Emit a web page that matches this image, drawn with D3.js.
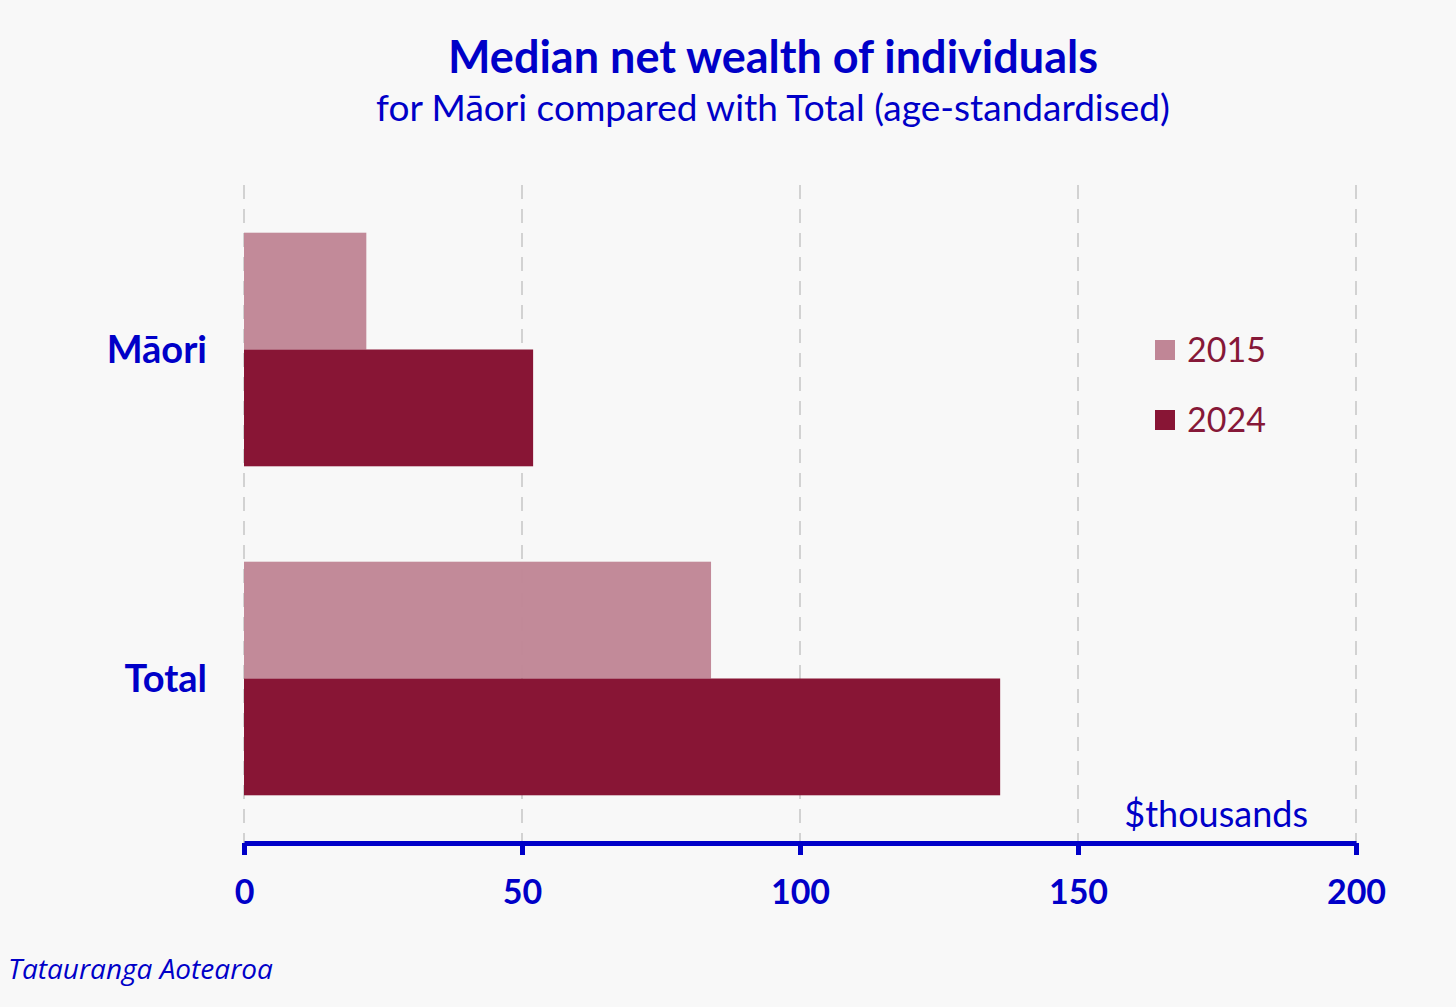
<!DOCTYPE html>
<html>
<head>
<meta charset="utf-8">
<script src="https://cdn.jsdelivr.net/npm/d3@7"></script>
<style>
  html, body { margin: 0; padding: 0; background: #f8f8f8; }
  svg { display: block; font-family: Lato, "Open Sans", sans-serif; }
</style>
</head>
<body>
<div id="chart"></div>
<script>
// ===== Data =====
const categories = ['Māori', 'Total'];
const years = ['2015', '2024'];
const values2015 = [22, 84];
const values2024 = [52, 136];
const xTicks = [0, 50, 100, 150, 200];

const W = 1456, H = 1007;
const margin = { top: 185, right: 100, bottom: 164, left: 244 };
const plotW = W - margin.left - margin.right;
const plotH = H - margin.top - margin.bottom;

const blue = '#0000c8';
const color = d3.scaleOrdinal().domain(years).range(['#c08696', '#881535']);

const svg = d3.select('#chart').append('svg')
  .attr('width', W)
  .attr('height', H);

svg.append('rect').attr('width', W).attr('height', H).attr('fill', '#f8f8f8');

// titles
svg.append('text')
  .attr('x', 773).attr('y', 73)
  .attr('text-anchor', 'middle')
  .attr('font-size', 45).attr('font-weight', 700)
  .attr('fill', blue)
  .text('Median net wealth of individuals');

svg.append('text')
  .attr('x', 773).attr('y', 121)
  .attr('text-anchor', 'middle')
  .attr('font-size', 37)
  .attr('fill', blue)
  .text('for Māori compared with Total (age-standardised)');

const g = svg.append('g').attr('transform', `translate(${margin.left},${margin.top})`);

const x = d3.scaleLinear().domain([0, 200]).range([0, plotW]);
const y = d3.scaleBand().domain(categories).range([0, plotH]).paddingInner(0.29).paddingOuter(0.145);
const ySub = d3.scaleBand().domain(years).range([0, y.bandwidth()]).padding(0);

// gridlines
g.append('g')
  .selectAll('line')
  .data(xTicks)
  .enter().append('line')
  .attr('x1', d => x(d)).attr('x2', d => x(d))
  .attr('y1', 0).attr('y2', plotH)
  .attr('stroke', '#d2d2d2')
  .attr('stroke-width', 2)
  .attr('stroke-dasharray', '14,10');

// bars
const rows = categories.map((c, i) => ({ cat: c, vals: [
  { year: '2015', value: values2015[i] },
  { year: '2024', value: values2024[i] }
] }));

const grp = g.selectAll('.grp')
  .data(rows)
  .enter().append('g')
  .attr('class', 'grp')
  .attr('transform', d => `translate(0,${y(d.cat)})`);

grp.selectAll('rect')
  .data(d => d.vals)
  .enter().append('rect')
  .attr('x', 0)
  .attr('y', d => ySub(d.year))
  .attr('width', d => x(d.value))
  .attr('height', ySub.bandwidth())
  .attr('fill', d => color(d.year))
  .attr('opacity', d => d.year === '2015' ? 0.97 : 1);

// category labels
g.selectAll('.cat')
  .data(categories)
  .enter().append('text')
  .attr('class', 'cat')
  .attr('x', -37)
  .attr('y', d => y(d) + y.bandwidth() / 2)
  .attr('dy', '0.35em')
  .attr('text-anchor', 'end')
  .attr('font-size', 38).attr('font-weight', 700)
  .attr('fill', blue)
  .text(d => d);

// x axis
const axisY = 658;
const xAxis = g.append('g')
  .attr('transform', `translate(0,${axisY})`)
  .call(d3.axisBottom(x).tickValues(xTicks).tickSize(12).tickPadding(25).tickSizeOuter(0));
xAxis.select('.domain').attr('stroke', blue).attr('stroke-width', 5);
xAxis.selectAll('.tick line').attr('stroke', blue).attr('stroke-width', 5);
xAxis.selectAll('.tick text')
  .attr('fill', blue)
  .attr('font-size', 34).attr('font-weight', 700)
  .attr('font-family', 'Lato, "Open Sans", sans-serif');

g.append('text')
  .attr('x', x(200) - 48).attr('y', axisY - 16)
  .attr('text-anchor', 'end')
  .attr('font-size', 36)
  .attr('fill', blue)
  .text('$thousands');

// legend
const legend = svg.append('g')
  .selectAll('g')
  .data(years)
  .enter().append('g')
  .attr('transform', (d, i) => `translate(1155,${340 + i * 70})`);

legend.append('rect')
  .attr('width', 20).attr('height', 20)
  .attr('fill', color);

legend.append('text')
  .attr('x', 32).attr('y', 10)
  .attr('dy', '0.35em')
  .attr('font-size', 34)
  .attr('fill', '#861838')
  .text(d => d);

// source
svg.append('text')
  .attr('x', 8).attr('y', 979)
  .attr('font-size', 28)
  .attr('font-style', 'italic')
  .attr('font-family', '"Open Sans", sans-serif')
  .attr('fill', blue)
  .text('Tatauranga Aotearoa');
</script>
</body>
</html>
